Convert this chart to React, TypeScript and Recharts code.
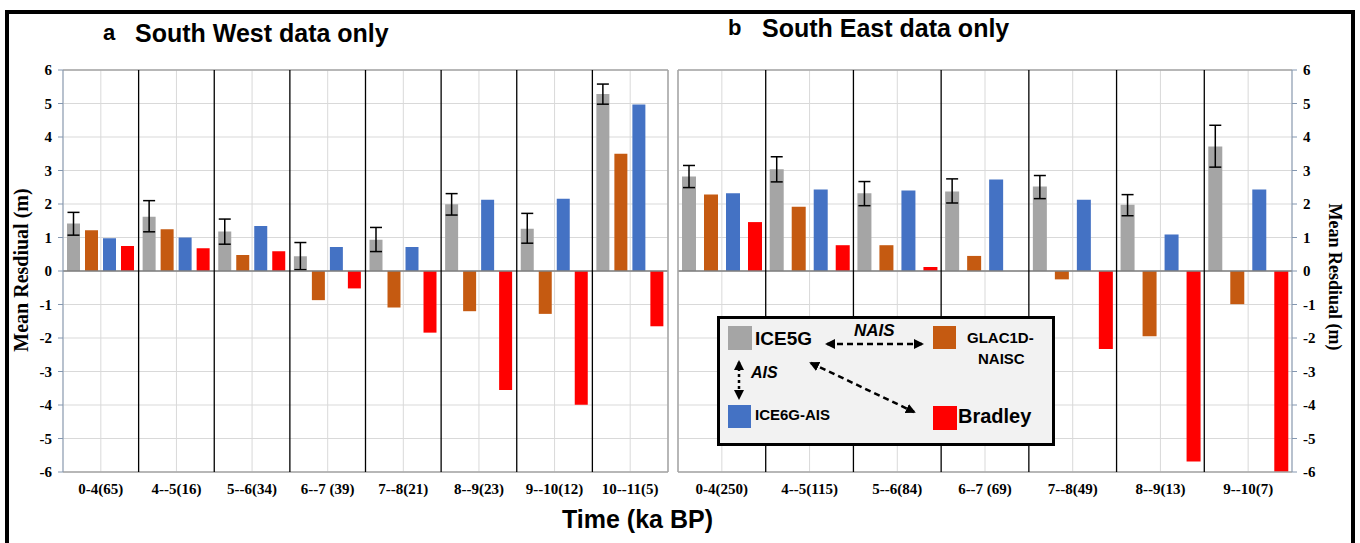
import React from "react";
import {
  Bar,
  BarChart,
  CartesianGrid,
  ErrorBar,
  ReferenceLine,
  XAxis,
  YAxis,
} from "recharts";

// series (legend order)
const SERIES_KEYS = ["ice5g", "glac1d", "ice6g", "bradley"];
const SERIES_NAMES = ["ICE5G", "GLAC1D-NAISC", "ICE6G-AIS", "Bradley"];
const SERIES_COLORS = ["#A5A5A5", "#C55A11", "#4472C4", "#FF0000"];

const Y_TICKS = [-6, -5, -4, -3, -2, -1, 0, 1, 2, 3, 4, 5, 6];

// a: South West
const swCategories = ["0-4(65)", "4--5(16)", "5--6(34)", "6--7 (39)", "7--8(21)", "8--9(23)", "9--10(12)", "10--11(5)"];
const swIce5g = [1.42, 1.62, 1.18, 0.44, 0.93, 1.99, 1.26, 5.28];
const swIce5gLow = [1.07, 1.17, 0.8, 0.04, 0.58, 1.67, 0.83, 4.98];
const swIce5gHigh = [1.75, 2.1, 1.55, 0.85, 1.3, 2.31, 1.72, 5.58];
const swGlac1d = [1.22, 1.25, 0.48, -0.87, -1.09, -1.2, -1.28, 3.5];
const swIce6g = [0.98, 1.0, 1.34, 0.72, 0.72, 2.13, 2.16, 4.97];
const swBradley = [0.75, 0.68, 0.59, -0.52, -1.84, -3.55, -3.99, -1.65];

// b: South East
const seCategories = ["0-4(250)", "4--5(115)", "5--6(84)", "6--7 (69)", "7--8(49)", "8--9(13)", "9--10(7)"];
const seIce5g = [2.82, 3.04, 2.32, 2.37, 2.52, 1.98, 3.72];
const seIce5gLow = [2.49, 2.66, 1.95, 2.03, 2.16, 1.65, 3.1];
const seIce5gHigh = [3.15, 3.41, 2.67, 2.75, 2.85, 2.28, 4.35];
const seGlac1d = [2.28, 1.92, 0.77, 0.45, -0.25, -1.95, -0.99];
const seIce6g = [2.32, 2.43, 2.4, 2.73, 2.13, 1.09, 2.43];
const seBradley = [1.46, 0.77, 0.12, 0, -2.33, -5.69, -6.0];

function buildRows(cats: string[], ice5g: number[], low: number[], high: number[], glac: number[], ice6g: number[], bradley: number[]) {
  return cats.map((name, i) => ({
    name,
    ice5g: ice5g[i],
    err: [ice5g[i] - low[i], high[i] - ice5g[i]],
    glac1d: glac[i],
    ice6g: ice6g[i],
    bradley: bradley[i],
  }));
}

const swData = buildRows(swCategories, swIce5g, swIce5gLow, swIce5gHigh, swGlac1d, swIce6g, swBradley);
const seData = buildRows(seCategories, seIce5g, seIce5gLow, seIce5gHigh, seGlac1d, seIce6g, seBradley);

const SERIF = "'Liberation Serif', 'Times New Roman', serif";
const SANS = "'Liberation Sans', Arial, sans-serif";

const TICK_STYLE = { fontFamily: SERIF, fontWeight: 700, fontSize: 15, fill: "#000" };
const BORDER = "#A6A6A6";

function Panel({
  data,
  width,
  margin,
  side,
  barGap,
}: {
  data: any[];
  width: number;
  margin: any;
  side: "left" | "right";
  barGap: number;
}) {
  const cats = data.map((d) => d.name);
  return (
    <BarChart
      width={width}
      height={502}
      data={data}
      margin={margin}
      barCategoryGap={4}
      barGap={barGap}
    >
      <CartesianGrid stroke="#D9D9D9" strokeWidth={1} />
      <XAxis
        dataKey="name"
        axisLine={false}
        tickLine={false}
        interval={0}
        tick={TICK_STYLE}
        tickMargin={5}
        height={30}
      />
      <YAxis
        orientation={side}
        domain={[-6, 6]}
        ticks={Y_TICKS}
        interval={0}
        width={50}
        tick={TICK_STYLE}
        stroke="#8497B0"
        tickSize={5}
        tickMargin={6}
        allowDataOverflow
      />
      {SERIES_KEYS.map((k, i) => (
        <Bar key={k} dataKey={k} name={SERIES_NAMES[i]} fill={SERIES_COLORS[i]} isAnimationActive={false}>
          {k === "ice5g" && (
            <ErrorBar dataKey="err" width={6} strokeWidth={1.5} stroke="#000" direction="y" />
          )}
        </Bar>
      ))}
      <ReferenceLine y={6} stroke={BORDER} strokeWidth={1.5} />
      <ReferenceLine y={-6} stroke={BORDER} strokeWidth={1.5} />
      <ReferenceLine y={0} stroke="#7F7F7F" strokeWidth={1.5} />
      {side === "right" && <ReferenceLine x={cats[0]} position="start" stroke={BORDER} strokeWidth={1.5} />}
      {side === "left" && <ReferenceLine x={cats[cats.length - 1]} position="end" stroke={BORDER} strokeWidth={1.5} />}
      {cats.slice(1).map((c) => (
        <ReferenceLine key={c} x={c} position="start" stroke="#000" strokeWidth={1.3} />
      ))}
    </BarChart>
  );
}

function LegendBox() {
  const sq = 24;
  return (
    <svg
      width={338}
      height={130}
      style={{ position: "absolute", left: 717, top: 316 }}
    >
      <defs>
        <marker id="ah" viewBox="0 0 10 10" refX="8" refY="5" markerWidth="4" markerHeight="4" orient="auto-start-reverse">
          <path d="M0,0 L10,5 L0,10 z" fill="#000" />
        </marker>
      </defs>
      <rect x={1.5} y={1.5} width={335} height={127} fill="#F2F2F2" stroke="#000" strokeWidth={3} />
      <g fontFamily={SANS} fontWeight={700} fill="#000">
        <rect x={11} y={10} width={sq} height={sq} fill={SERIES_COLORS[0]} />
        <text x={38} y={29} fontSize={19}>{SERIES_NAMES[0]}</text>
        <text x={137} y={20} fontSize={17} fontStyle="italic">NAIS</text>
        <line x1={110} y1={28} x2={205} y2={28} stroke="#000" strokeWidth={2.5} strokeDasharray="6 4" markerStart="url(#ah)" markerEnd="url(#ah)" />
        <rect x={216} y={10} width={23} height={23} fill={SERIES_COLORS[1]} />
        <text x={250} y={27} fontSize={15}>GLAC1D-</text>
        <text x={261} y={48} fontSize={15}>NAISC</text>
        <line x1={22} y1={46} x2={22} y2={82} stroke="#000" strokeWidth={2.5} strokeDasharray="3 3" markerStart="url(#ah)" markerEnd="url(#ah)" />
        <text x={34} y={62} fontSize={16} fontStyle="italic">AIS</text>
        <rect x={11} y={89} width={23} height={23} fill={SERIES_COLORS[2]} />
        <text x={38} y={104} fontSize={15}>{SERIES_NAMES[2]}</text>
        <line x1={94} y1={47} x2={197} y2={96} stroke="#000" strokeWidth={2.5} strokeDasharray="6 4" markerStart="url(#ah)" markerEnd="url(#ah)" />
        <rect x={216} y={90} width={24} height={24} fill={SERIES_COLORS[3]} />
        <text x={241} y={107} fontSize={20}>{SERIES_NAMES[3]}</text>
      </g>
    </svg>
  );
}

export default function App() {
  const title = { position: "absolute" as const, fontFamily: SANS, fontWeight: 700, whiteSpace: "nowrap" as const };
  const axisTitle = {
    position: "absolute" as const, fontFamily: SERIF, fontWeight: 700, whiteSpace: "nowrap" as const,
  };
  return (
    <div style={{ position: "absolute", left: 0, top: 0, width: 1360, height: 543, overflow: "hidden", background: "#fff" }}>
      <div style={{ position: "absolute", left: 5, top: 10, width: 1342, height: 560, border: "4px solid #000" }} />
      <div style={{ ...title, left: 103, top: 20, fontSize: 22 }}>a</div>
      <div style={{ ...title, left: 135, top: 19, fontSize: 25 }}>South West data only</div>
      <div style={{ ...title, left: 728, top: 15, fontSize: 22 }}>b</div>
      <div style={{ ...title, left: 762, top: 14, fontSize: 25 }}>South East data only</div>
      <div style={{ ...title, left: 562, top: 505, fontSize: 25 }}>Time (ka BP)</div>
      <div style={{ ...axisTitle, left: 21, top: 270, fontSize: 20, transform: "translate(-50%, -50%) rotate(-90deg)" }}>
        Mean Resdiual (m)
      </div>
      <div style={{ ...axisTitle, left: 1334, top: 277, fontSize: 18, transform: "translate(-50%, -50%) rotate(90deg)" }}>
        Mean Resdiual (m)
      </div>
      <div style={{ position: "absolute", left: 0, top: 0 }}>
        <Panel data={swData} width={675} margin={{ top: 70, right: 7, left: 13, bottom: 0 }} side="left" barGap={5} />
      </div>
      <div style={{ position: "absolute", left: 670, top: 0 }}>
        <Panel data={seData} width={672} margin={{ top: 70, right: 0, left: 8, bottom: 0 }} side="right" barGap={8} />
      </div>
      <LegendBox />
    </div>
  );
}
